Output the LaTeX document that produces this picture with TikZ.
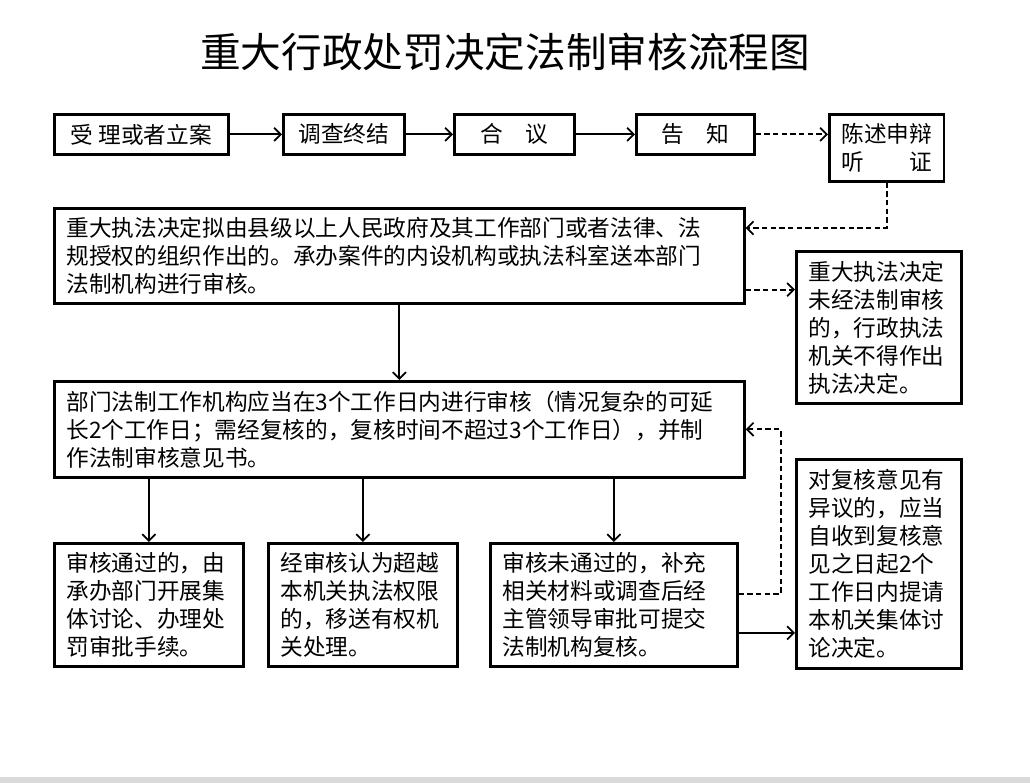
\documentclass[tikz,border=0pt]{standalone}
\usepackage{fontspec}
\setmainfont{Noto Sans CJK SC}
\usetikzlibrary{arrows.meta,calc}

\tikzset{
	box/.style={draw=black,line width=2pt,anchor=north west,inner xsep=9pt,inner ysep=2pt,
		font=\fontsize{17}{21}\selectfont,align=left},
	stepbox/.style={box,align=center,minimum height=30pt},
	stepline/.style={black,line width=1.3pt,-{Straight Barb[length=5pt,width=10pt]}},
	dashline/.style={stepline,dash pattern=on 4pt off 2.5pt}
}

\begin{document}
\begin{tikzpicture}[x=0.75pt,y=-0.75pt]

	\useasboundingbox (0,0) rectangle (1030,783);
	\fill[gray!30] (0,777) rectangle (1030,783);

	\node[font=\fontsize{30.5}{36}\selectfont] (title) at (505,52) {重大行政处罚决定法制审核流程图};

	% first row
	\node[stepbox,minimum width=130.5pt] (accept) at (53,113) {受 理或者立案};
	\node[stepbox,minimum width=90.75pt] (inquiry) at (282,113) {调查终结};
	\node[stepbox,minimum width=90pt] (council) at (453,113) {合　议};
	\node[stepbox,minimum width=88.5pt] (notify) at (635,113) {告　知};
	\node[stepbox,minimum width=80.25pt,minimum height=50.25pt] (hearing) at (828,113) {陈述申辩\\听　　证};

	% main boxes
	\node[box,text width=499.5pt,minimum height=71.25pt] (major) at (53,207)
		{重大执法决定拟由县级以上人民政府及其工作部门或者法律、法\\规授权的组织作出的。承办案件的内设机构或执法科室送本部门\\法制机构进行审核。};
	\node[box,text width=105.75pt,minimum height=114pt] (noreview) at (795,250)
		{重大执法决定\\未经法制审核\\的，行政执法\\机关不得作出\\执法决定。};
	\node[box,text width=499.5pt,minimum height=72pt] (review) at (53,380)
		{部门法制工作机构应当在3个工作日内进行审核（情况复杂的可延\\长2个工作日；需经复核的，复核时间不超过3个工作日），并制\\作法制审核意见书。};

	% bottom row
	\node[box,text width=123.75pt,minimum height=92.25pt] (pass) at (53,542)
		{审核通过的，由\\承办部门开展集\\体讨论、办理处\\罚审批手续。};
	\node[box,text width=123.75pt,minimum height=92.25pt] (transfer) at (267,542)
		{经审核认为超越\\本机关执法权限\\的，移送有权机\\关处理。};
	\node[box,text width=167.25pt,minimum height=92.25pt] (fail) at (489,542)
		{审核未通过的，补充\\相关材料或调查后经\\主管领导审批可提交\\法制机构复核。};
	\node[box,text width=105.75pt,minimum height=156.75pt] (objection) at (795,458)
		{对复核意见有\\异议的，应当\\自收到复核意\\见之日起2个\\工作日内提请\\本机关集体讨\\论决定。};

	% connectors
	\draw[stepline] (accept) -- (inquiry);
	\draw[stepline] (inquiry) -- (council);
	\draw[stepline] (council) -- (notify);
	\draw[dashline] (notify.east) -- (notify.east -| hearing.west);

	\coordinate (majorin) at ($(major.north east)+(0,21)$);
	\draw[dashline] (hearing.south) |- (majorin);

	\coordinate (majorout) at ($(major.south east)+(0,-15)$);
	\draw[dashline] (majorout) -- (majorout -| noreview.west);

	\draw[stepline] (major.south) -- (review.north);
	\draw[stepline] (review.south -| pass.north) -- (pass.north);
	\draw[stepline] (review.south -| transfer.north) -- (transfer.north);
	\draw[stepline] (review.south -| fail.north) -- (fail.north);

	\coordinate (failback) at ($(fail.east)+(0,-11)$);
	\draw[dashline] (failback) -- ++(42,0) |- (review.east);

	\coordinate (failout) at ($(fail.east)+(0,28)$);
	\draw[stepline] (failout) -- (failout -| objection.west);

\end{tikzpicture}
\end{document}
